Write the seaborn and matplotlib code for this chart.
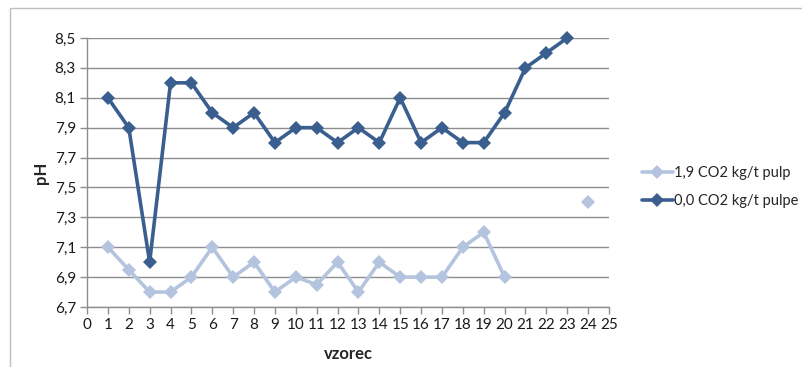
import numpy as np
import pandas as pd
import matplotlib
matplotlib.use("Agg")
import matplotlib.pyplot as plt
from matplotlib.lines import Line2D
from matplotlib.ticker import FuncFormatter, FixedLocator, MultipleLocator
import seaborn as sns

# pH per sample, 1.9 kg CO2 per tonne of pulp (samples 1-20, plus sample 24)
samples_co2 = list(range(1, 21))
ph_co2 = [7.1, 6.95, 6.8, 6.8, 6.9, 7.1, 6.9, 7.0, 6.8, 6.9,
          6.85, 7.0, 6.8, 7.0, 6.9, 6.9, 6.9, 7.1, 7.2, 6.9]
samples_co2_extra = [24]
ph_co2_extra = [7.4]

# pH per sample without CO2 (samples 1-23)
samples_ref = list(range(1, 24))
ph_ref = [8.1, 7.9, 7.0, 8.2, 8.2, 8.0, 7.9, 8.0, 7.8, 7.9, 7.9, 7.8,
          7.9, 7.8, 8.1, 7.8, 7.9, 7.8, 7.8, 8.0, 8.3, 8.4, 8.5]

ph_ticks = [6.7, 6.9, 7.1, 7.3, 7.5, 7.7, 7.9, 8.1, 8.3, 8.5]

label_co2 = "1,9 CO2 kg/t pulp"
label_ref = "0,0 CO2 kg/t pulpe"

light = "#B4C4DE"
dark = "#3A5F8F"
grid_col = "#8E8E8E"

sns.set_theme(style="white")
plt.rcParams["font.family"] = ["Lato", "DejaVu Sans"]

fig = plt.figure(figsize=(8.02, 3.67), dpi=100)
ax = fig.add_axes([87 / 802, 1 - 307 / 367, (609 - 87) / 802, (307 - 38) / 367])

df_co2 = pd.DataFrame({"vzorec": samples_co2, "pH": ph_co2})
df_co2_extra = pd.DataFrame({"vzorec": samples_co2_extra, "pH": ph_co2_extra})
df_ref = pd.DataFrame({"vzorec": samples_ref, "pH": ph_ref})

mk = dict(marker="D", markersize=7, markeredgewidth=0)
sns.lineplot(data=df_co2, x="vzorec", y="pH", ax=ax, color=light, lw=2.6, **mk,
             zorder=3, clip_on=False)
sns.lineplot(data=df_co2_extra, x="vzorec", y="pH", ax=ax, color=light, lw=0, **mk,
             zorder=3, clip_on=False)
sns.lineplot(data=df_ref, x="vzorec", y="pH", ax=ax, color=dark, lw=2.6, **mk,
             zorder=4, clip_on=False)

ax.set_xlim(0, 25)
ax.set_ylim(ph_ticks[0], ph_ticks[-1])
ax.xaxis.set_major_locator(MultipleLocator(1))
ax.yaxis.set_major_locator(FixedLocator(ph_ticks))
ax.yaxis.set_major_formatter(FuncFormatter(lambda v, p: f"{v:.1f}".replace(".", ",")))

ax.grid(axis="y", color=grid_col, lw=1)
ax.grid(axis="x", visible=False)
for side in ("top", "right"):
    ax.spines[side].set_visible(False)
for side in ("left", "bottom"):
    ax.spines[side].set_color(grid_col)
    ax.spines[side].set_linewidth(1)

ax.tick_params(axis="both", which="major", length=5, width=1, color=grid_col,
               labelsize=11, labelcolor="#1a1a1a", direction="out",
               bottom=True, left=True, pad=3)

ax.set_xlabel("vzorec", fontsize=12, fontweight="bold", labelpad=10)
ax.set_ylabel("pH", fontsize=12, fontweight="bold", labelpad=4)

handles = [Line2D([], [], color=light, lw=2.6, **mk),
           Line2D([], [], color=dark, lw=2.6, **mk)]
fig.legend(handles, [label_co2, label_ref], loc="center left",
           bbox_to_anchor=(642 / 802, 1 - 187 / 367), frameon=False,
           fontsize=10.5, handlelength=2.1, handletextpad=0.1, labelspacing=1.0,
           borderaxespad=0, borderpad=0)

# chart area border
fig.add_artist(Line2D([10 / 802, 10 / 802, 1.0], [0.0, 1 - 8 / 367, 1 - 8 / 367],
                      transform=fig.transFigure, color="#BFBFBF", lw=1))

fig.savefig("out.png", dpi=100)
